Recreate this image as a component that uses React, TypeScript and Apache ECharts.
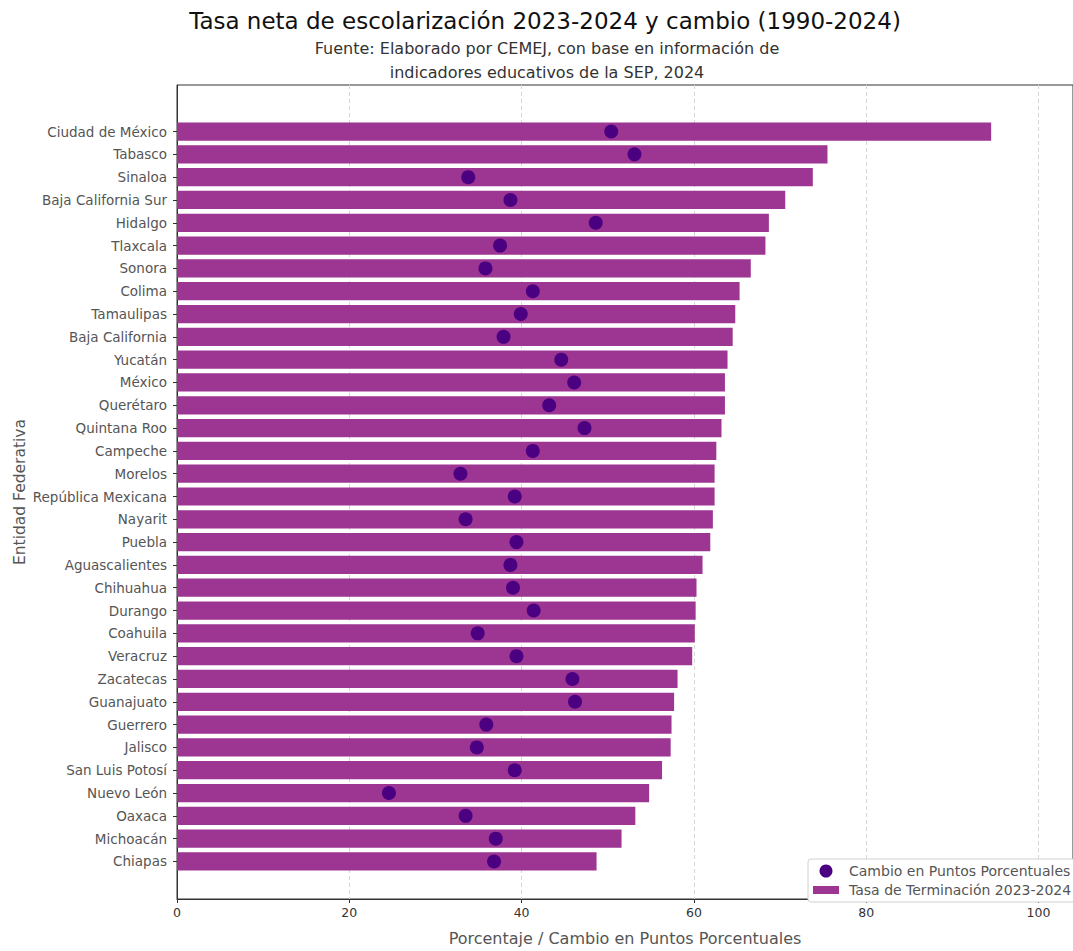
import React, { useEffect, useRef } from "react";
import * as echarts from "echarts";

const states = [
  "Ciudad de México", "Tabasco", "Sinaloa", "Baja California Sur", "Hidalgo", "Tlaxcala",
  "Sonora", "Colima", "Tamaulipas", "Baja California", "Yucatán", "México", "Querétaro",
  "Quintana Roo", "Campeche", "Morelos", "República Mexicana", "Nayarit", "Puebla",
  "Aguascalientes", "Chihuahua", "Durango", "Coahuila", "Veracruz", "Zacatecas",
  "Guanajuato", "Guerrero", "Jalisco", "San Luis Potosí", "Nuevo León", "Oaxaca",
  "Michoacán", "Chiapas",
];

const tasa = [
  94.5, 75.5, 73.8, 70.6, 68.7, 68.3, 66.6, 65.3, 64.8, 64.5, 63.9, 63.6, 63.6, 63.2,
  62.6, 62.4, 62.4, 62.2, 61.9, 61.0, 60.3, 60.2, 60.1, 59.8, 58.1, 57.7, 57.4, 57.3,
  56.3, 54.8, 53.2, 51.6, 48.7,
];

const cambio = [
  50.4, 53.1, 33.8, 38.7, 48.6, 37.5, 35.8, 41.3, 39.9, 37.9, 44.6, 46.1, 43.2, 47.3,
  41.3, 32.9, 39.2, 33.5, 39.4, 38.7, 39.0, 41.4, 34.9, 39.4, 45.9, 46.2, 35.9, 34.8,
  39.2, 24.6, 33.5, 37.0, 36.8,
];

const xTicks = [0, 20, 40, 60, 80, 100];

const titleText = "Tasa neta de escolarización 2023-2024 y cambio (1990-2024)";
const subLine1 = "Fuente: Elaborado por CEMEJ, con base en información de";
const subLine2 = "indicadores educativos de la SEP, 2024";
const xName = "Porcentaje / Cambio en Puntos Porcentuales";
const yName = "Entidad Federativa";
const dotName = "Cambio en Puntos Porcentuales";
const barName = "Tasa de Terminación 2023-2024";

const FONT = "DejaVu Sans";
const BAR_COLOR = "#9d3592";
const DOT_COLOR = "#4b0082";

export default function App() {
  const ref = useRef<HTMLDivElement>(null);

  useEffect(() => {
    if (!ref.current) return;
    const chart = echarts.init(ref.current, null, { renderer: "svg" });
    const X_MAX = 104;
    const gridLeft = 177;
    const gridRight = -2;
    chart.setOption({
      animation: false,
      backgroundColor: "#ffffff",
      textStyle: { fontFamily: FONT },
      graphic: [
        {
          type: "text",
          x: 545,
          y: 21,
          style: {
            text: titleText,
            fontFamily: FONT,
            fontSize: 23,
            fill: "#111",
            align: "center",
            verticalAlign: "middle",
          },
        },
        {
          type: "text",
          x: 547,
          y: 48,
          style: {
            text: subLine1,
            fontFamily: FONT,
            fontSize: 16,
            fill: "#333",
            align: "center",
            verticalAlign: "middle",
          },
        },
        {
          type: "text",
          x: 547,
          y: 72,
          style: {
            text: subLine2,
            fontFamily: FONT,
            fontSize: 16,
            fill: "#333",
            align: "center",
            verticalAlign: "middle",
          },
        },
      ],
      legend: {
        orient: "vertical",
        left: 808,
        top: 859,
        padding: [5, 40, 5, 5],
        itemGap: 5,
        itemWidth: 26,
        itemHeight: 13,
        backgroundColor: "#ffffff",
        borderColor: "#d0d0d0",
        borderWidth: 1,
        borderRadius: 3,
        z: 20,
        textStyle: { fontFamily: FONT, fontSize: 14, color: "#555", padding: [0, 0, 0, 5] },
        data: [
          { name: dotName, icon: "circle" },
          { name: barName, icon: "path://M0,0H26V8H0Z" },
        ],
      },
      grid: [
        { left: gridLeft, right: gridRight, top: 85, bottom: 43, show: true, borderColor: "#333", borderWidth: 1, backgroundColor: "transparent" },
        { left: gridLeft, right: gridRight, top: 120.1, bottom: 78.1 },
      ],
      xAxis: [
        {
          type: "value",
          gridIndex: 0,
          min: 0,
          max: X_MAX,
          interval: 20,
          axisLine: { show: true, lineStyle: { color: "#333" } },
          axisTick: { show: true, length: 4, lineStyle: { color: "#333" } },
          axisLabel: {
            fontFamily: FONT,
            fontSize: 12.5,
            color: "#333",
            margin: 7,
            customValues: xTicks,
          },
          splitLine: { show: true, lineStyle: { color: "#d6d6d6", type: [4, 3], width: 1 } },
          name: xName,
          nameLocation: "middle",
          nameGap: 31,
          nameTextStyle: { fontFamily: FONT, fontSize: 16, color: "#555" },
        },
        {
          type: "value",
          gridIndex: 1,
          min: 0,
          max: X_MAX,
          show: false,
          splitLine: { show: false },
        },
      ],
      yAxis: [
        {
          type: "value",
          gridIndex: 0,
          min: 0,
          max: 1,
          axisLine: { show: true, lineStyle: { color: "#333" } },
          axisTick: { show: false },
          axisLabel: { show: false },
          splitLine: { show: false },
          name: yName,
          nameLocation: "middle",
          nameRotate: 90,
          nameGap: 149,
          nameTextStyle: { fontFamily: FONT, fontSize: 15.5, color: "#555" },
        },
        {
          type: "category",
          gridIndex: 1,
          data: states,
          inverse: true,
          axisLine: { show: false },
          axisTick: { show: true, alignWithLabel: true, length: 4, lineStyle: { color: "#333" } },
          axisLabel: { fontFamily: FONT, fontSize: 13.5, color: "#555", margin: 10, interval: 0 },
          splitLine: { show: false },
        },
      ],
      series: [
        {
          name: barName,
          type: "bar",
          xAxisIndex: 1,
          yAxisIndex: 1,
          data: tasa,
          barWidth: "80%",
          itemStyle: { color: BAR_COLOR },
          z: 2,
        },
        {
          name: dotName,
          type: "scatter",
          xAxisIndex: 1,
          yAxisIndex: 1,
          data: cambio.map((v, i) => [v, states[i]]),
          symbol: "circle",
          symbolSize: 14,
          itemStyle: { color: DOT_COLOR, opacity: 1 },
          z: 5,
        },
      ],
    });
    return () => chart.dispose();
  }, []);

  return (
    <div
      ref={ref}
      style={{ position: "absolute", left: 0, top: 0, width: 1073, height: 951 }}
    />
  );
}
